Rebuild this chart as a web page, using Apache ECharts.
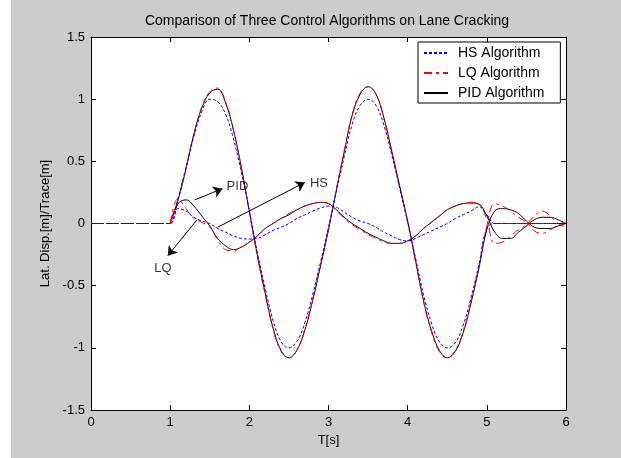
<!DOCTYPE html>
<html>
<head>
<meta charset="utf-8">
<script src="https://cdn.jsdelivr.net/npm/echarts@6.0.0/dist/echarts.min.js"></script>
<style>
  html, body { margin: 0; padding: 0; background: #fff; }
  #chart { position: absolute; left: 11px; top: 0; width: 610px; height: 458px; }
</style>
</head>
<body>
<div id="chart"></div>
<script>
// time grid (s)
const times = [0, 0.9,
  1.0, 1.1, 1.2, 1.3, 1.4, 1.5, 1.6, 1.7, 1.8, 1.9, 2.0,
  2.1, 2.2, 2.3, 2.4, 2.5, 2.6, 2.7, 2.8, 2.9, 3.0,
  3.1, 3.2, 3.3, 3.4, 3.5, 3.6, 3.7, 3.8, 3.9, 4.0,
  4.1, 4.2, 4.3, 4.4, 4.5, 4.6, 4.7, 4.8, 4.9, 5.0,
  5.1, 5.2, 5.3, 5.4, 5.5, 5.6, 5.7, 5.8, 5.9, 6.0]

// resting part before the manoeuvre (drawn long-dashed)
const restTimes = [0, 1.0]
const restValues = [0, 0]

// trace (large swing) for each algorithm
const hsTrace = [0, 0,
  0, 0.20, 0.45, 0.70, 0.90, 1.00, 0.98, 0.88, 0.68, 0.41, 0.10,
  -0.23, -0.52, -0.78, -0.95, -1.00, -0.95, -0.80, -0.57, -0.31, -0.03,
  0.26, 0.54, 0.80, 0.95, 1.00, 0.95, 0.79, 0.55, 0.28, 0.01,
  -0.28, -0.57, -0.80, -0.95, -1.00, -0.96, -0.82, -0.60, -0.33, -0.04,
  0, 0, 0, 0, 0, 0, 0, 0, 0, 0]
const lqTrace = [null, null,
  0, 0.20, 0.45, 0.72, 0.94, 1.06, 1.09, 0.98, 0.75, 0.44, 0.09,
  -0.26, -0.57, -0.85, -1.03, -1.08, -1.02, -0.85, -0.61, -0.33, -0.04,
  0.28, 0.59, 0.88, 1.05, 1.10, 1.04, 0.84, 0.57, 0.29, 0.01,
  -0.31, -0.63, -0.87, -1.03, -1.08, -1.02, -0.87, -0.63, -0.34, -0.02,
  0.16, 0.14, 0.10, 0.05, 0.01, -0.06, -0.08, -0.05, -0.01, 0.02]
const pidTrace = [null, null,
  0, 0.19, 0.44, 0.72, 0.93, 1.05, 1.08, 0.97, 0.75, 0.45, 0.10,
  -0.25, -0.56, -0.84, -1.02, -1.08, -1.02, -0.86, -0.62, -0.34, -0.05,
  0.27, 0.58, 0.87, 1.04, 1.10, 1.04, 0.85, 0.58, 0.30, 0.02,
  -0.30, -0.62, -0.86, -1.02, -1.08, -1.03, -0.88, -0.64, -0.36, -0.05,
  0.10, 0.12, 0.11, 0.08, 0.02, -0.03, -0.04, -0.04, -0.02, 0.00]

// lateral displacement (small swing)
const hsDisp = [0, 0,
  0, 0.12, 0.10, 0.05, 0.02, 0.00, -0.04, -0.07, -0.10, -0.12, -0.125,
  -0.12, -0.09, -0.056, -0.03, 0.00, 0.04, 0.07, 0.10, 0.125, 0.14,
  0.13, 0.09, 0.05, 0.02, 0.00, -0.03, -0.07, -0.10, -0.13, -0.14,
  -0.12, -0.09, -0.06, -0.03, 0.00, 0.04, 0.07, 0.10, 0.135, 0.07,
  0, 0, 0, 0, 0, 0, 0, 0, 0, 0]
const lqDisp = [null, null,
  0, 0.20, 0.12, 0.04, 0.01, -0.03, -0.13, -0.21, -0.22, -0.19, -0.15,
  -0.10, -0.04, 0.00, 0.04, 0.08, 0.11, 0.14, 0.16, 0.17, 0.16,
  0.10, 0.04, -0.01, -0.05, -0.09, -0.12, -0.15, -0.16, -0.16, -0.14,
  -0.10, -0.04, 0.01, 0.06, 0.11, 0.14, 0.16, 0.17, 0.16, 0.03,
  -0.16, -0.15, -0.10, -0.05, -0.01, 0.06, 0.10, 0.06, 0.00, -0.03]
const pidDisp = [null, null,
  0, 0.16, 0.19, 0.14, 0.06, -0.02, -0.12, -0.18, -0.21, -0.19, -0.15,
  -0.10, -0.04, 0.00, 0.04, 0.07, 0.11, 0.14, 0.16, 0.17, 0.16,
  0.11, 0.05, 0.00, -0.04, -0.08, -0.11, -0.14, -0.16, -0.16, -0.14,
  -0.10, -0.04, 0.01, 0.06, 0.11, 0.14, 0.16, 0.165, 0.155, 0.06,
  -0.07, -0.12, -0.12, -0.07, -0.02, 0.03, 0.05, 0.05, 0.03, 0.00]

// arrows and their labels (data coordinates)
const noteText = ['PID', 'HS', 'LQ']
const arrowFrom = [[1.31, 0.19], [1.60, -0.03], [1.34, 0.03]]
const arrowTo = [[1.66, 0.28], [2.70, 0.33], [0.97, -0.26]]
const notePos = [[1.85, 0.30], [2.88, 0.32], [0.91, -0.36]]

const legendNames = ['HS Algorithm', 'LQ Algorithm', 'PID Algorithm']
const font = 'Liberation Sans, Arial, sans-serif'

const pairs = (xs, vals) => xs.map((t, i) => [t, vals[i]])

const lineSeries = (name, xs, vals, color, type) => ({
  name,
  type: 'line',
  data: pairs(xs, vals),
  smooth: 0.4,
  symbol: 'none',
  xAxisIndex: 0,
  yAxisIndex: 0,
  lineStyle: { color, width: 1, type },
  itemStyle: { color }
})

const hsDash = [3, 2]
const lqDash = [8, 4, 3, 4]
const restDash = [10, 5]

const chart = echarts.init(document.getElementById('chart'))

const axisCommon = {
  axisLine: { onZero: false, lineStyle: { color: '#000', width: 1 } },
  axisTick: { inside: true, length: 5, lineStyle: { color: '#000' } },
  splitLine: { show: false }
}

chart.setOption({
  animation: false,
  backgroundColor: '#cccccc',
  title: {
    text: 'Comparison of Three Control Algorithms on Lane Cracking',
    left: 311,
    textAlign: 'center',
    top: 9,
    textStyle: { fontFamily: font, fontSize: 14, fontWeight: 'normal', color: '#000' }
  },
  grid: {
    left: 80, right: 55, top: 37, bottom: 48,
    show: true, backgroundColor: '#fff', borderWidth: 0
  },
  legend: {
    data: legendNames,
    orient: 'vertical',
    left: 407,
    top: 42,
    backgroundColor: '#fff',
    borderColor: '#000',
    borderWidth: 1,
    borderRadius: 0,
    padding: [4, 16, 3, 5],
    itemWidth: 24,
    itemHeight: 12,
    itemGap: 6,
    itemStyle: { opacity: 0 },
    textStyle: { fontFamily: font, fontSize: 14, color: '#000', padding: [0, 0, 0, 5] }
  },
  xAxis: [
    Object.assign({
      type: 'value', min: 0, max: 6, interval: 1, position: 'bottom',
      name: 'T[s]', nameLocation: 'middle', nameGap: 24,
      nameTextStyle: { fontFamily: font, fontSize: 13, color: '#000' },
      axisLabel: { fontFamily: font, fontSize: 13, color: '#000', margin: 6 }
    }, axisCommon),
    Object.assign({
      type: 'value', min: 0, max: 6, interval: 1, position: 'top',
      axisLabel: { show: false }
    }, axisCommon)
  ],
  yAxis: [
    Object.assign({
      type: 'value', min: -1.5, max: 1.5, interval: 0.5, position: 'left',
      name: 'Lat. Disp.[m]/Trace[m]', nameLocation: 'middle', nameGap: 36,
      nameTextStyle: { fontFamily: font, fontSize: 13, color: '#000' },
      axisLabel: { fontFamily: font, fontSize: 13, color: '#000', margin: 6 }
    }, axisCommon),
    Object.assign({
      type: 'value', min: -1.5, max: 1.5, interval: 0.5, position: 'right',
      axisLabel: { show: false }
    }, axisCommon)
  ],
  series: [
    lineSeries('PID Algorithm', times, pidTrace, '#000000', 'solid'),
    lineSeries('PID Algorithm', times, pidDisp, '#000000', 'solid'),
    lineSeries('LQ Algorithm', times, lqTrace, '#ff0000', lqDash),
    lineSeries('LQ Algorithm', times, lqDisp, '#ff0000', lqDash),
    lineSeries('HS Algorithm', times, hsTrace, '#0000ff', hsDash),
    lineSeries('HS Algorithm', times, hsDisp, '#0000ff', hsDash),
    Object.assign(lineSeries('rest', restTimes, restValues, '#222222', restDash), { smooth: false, z: 3 }),
    {
      name: 'arrows',
      type: 'line',
      data: [],
      markLine: {
        silent: true,
        animation: false,
        symbol: ['none', 'arrow'],
        symbolSize: 9,
        label: { show: false },
        lineStyle: { color: '#000', width: 1, type: 'solid' },
        emphasis: { disabled: true },
        data: arrowFrom.map((p, i) => [{ coord: p }, { coord: arrowTo[i] }])
      }
    },
    {
      name: 'notes',
      type: 'scatter',
      symbolSize: 0,
      silent: true,
      data: notePos.map((p, i) => ({ value: p, name: noteText[i] })),
      label: {
        show: true,
        position: 'inside',
        formatter: (p) => p.name,
        fontFamily: font,
        fontSize: 13,
        color: '#000'
      }
    }
  ]
})
</script>
</body>
</html>
